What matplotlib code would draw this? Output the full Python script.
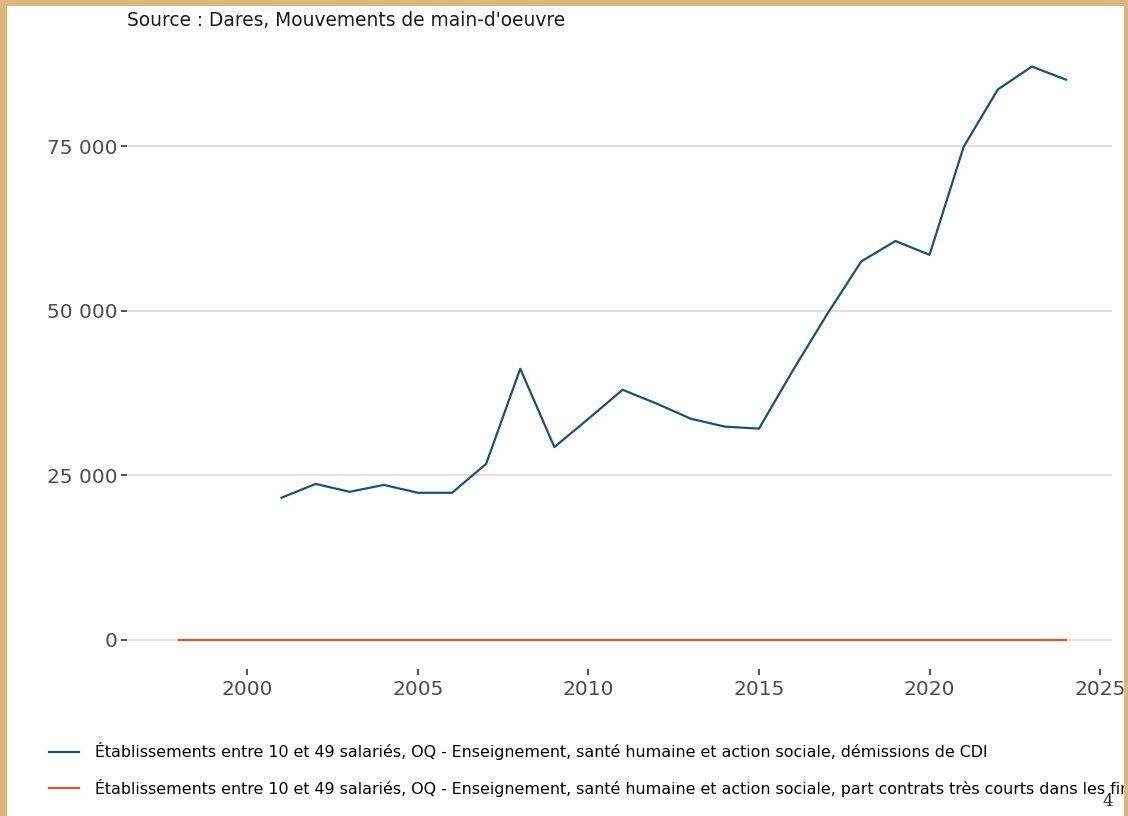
import matplotlib
matplotlib.use("Agg")
import matplotlib.pyplot as plt
from matplotlib.patches import Rectangle
from matplotlib.ticker import FuncFormatter

# Dares, Mouvements de main-d'oeuvre - OQ, établissements 10-49 salariés
years_cdi = list(range(2001, 2025))
demissions_cdi = [21600, 23700, 22500, 23550, 22350, 22350, 26750, 41200,
                  29300, 33600, 38000, 35900, 33600, 32400, 32100, 41000,
                  49500, 57500, 60600, 58500, 74900, 83600, 87100, 85100]

years_part = list(range(1998, 2025))
part_tres_courts = [0.0] * len(years_part)

label_cdi = ("Établissements entre 10 et 49 salariés, OQ - Enseignement, santé humaine "
             "et action sociale, démissions de CDI")
label_part = ("Établissements entre 10 et 49 salariés, OQ - Enseignement, santé humaine "
              "et action sociale, part contrats très courts dans les fins de CDD")

yticks = [0, 25000, 50000, 75000]
xticks = [2000, 2005, 2010, 2015, 2020, 2025]

plt.rcParams['font.family'] = ['DejaVu Sans']

W, H = 1128, 816
fig = plt.figure(figsize=(W / 100, H / 100), dpi=100)
fig.patch.set_facecolor("white")

# plot panel, placed in pixels
left, right, top, bottom = 127, 1112, 38, 668.6
ax = fig.add_axes([left / W, 1 - bottom / H, (right - left) / W, (bottom - top) / H])
ax.set_facecolor("white")

ax.plot(years_cdi, demissions_cdi, color="#1d4f7c", lw=1.6, label=label_cdi, zorder=3)
ax.plot(years_part, part_tres_courts, color="#e1552f", lw=1.6, label=label_part, zorder=3)

ax.set_xlim(1996.47, 2025.35)
ax.set_ylim(-4354, 91434)
ax.set_yticks(yticks)
ax.set_xticks(xticks)
ax.yaxis.set_major_formatter(FuncFormatter(lambda v, p: f"{int(v):,}".replace(",", " ")))
ax.grid(axis="y", color="#dcdcdc", lw=1.2)
ax.grid(axis="x", visible=False)
ax.set_axisbelow(True)
for s in ax.spines.values():
    s.set_visible(False)
ax.tick_params(axis="both", colors="#333333", labelcolor="#4d4d4d",
               labelsize=14.5, length=4, width=1.2, pad=3)
ax.tick_params(axis="x", pad=4)

fig.text(127 / W, 1 - 20 / H, "Source : Dares, Mouvements de main-d'oeuvre",
         fontsize=13.4, color="#1a1a1a", va="center", ha="left")

fig.legend(loc="upper left", bbox_to_anchor=(35 / W, 1 - 728 / H), frameon=False,
           fontsize=11.45, handlelength=1.85, handletextpad=1.05, labelspacing=1.15)

fig.text(1108 / W, 1 - 801 / H, "4", fontsize=12, family="DejaVu Serif",
         color="#222222", ha="center", va="center")

# parchment frame on top, clipping the overflowing text like the reference
frame = "#dcb67d"
for (x0, y0, w, h) in [(0, 0, 7, H), (1124, 0, W - 1124, H), (0, 0, W, 6)]:
    fig.patches.append(Rectangle((x0 / W, 1 - (y0 + h) / H), w / W, h / H,
                                 transform=fig.transFigure, facecolor=frame,
                                 edgecolor="none", zorder=10))

fig.savefig("out.png", dpi=100)
